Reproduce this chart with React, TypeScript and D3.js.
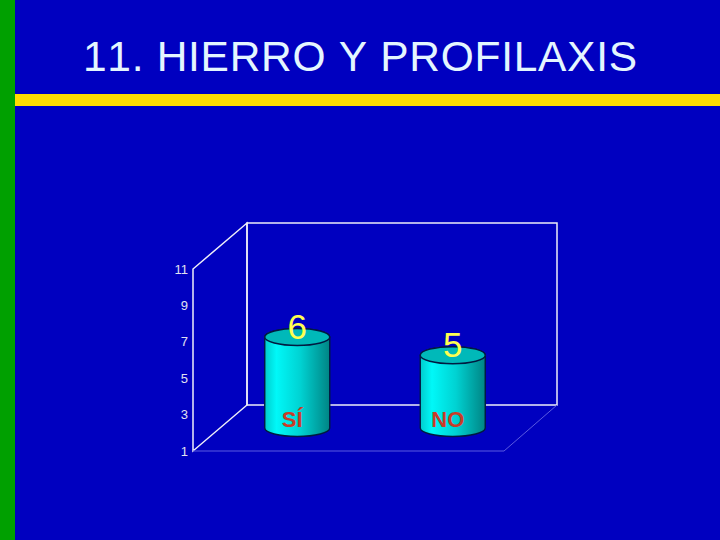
import React from 'react';
import * as d3 from 'd3';

const categories = ['SÍ', 'NO'];
const values = [6, 5];
const yTicks = [1, 3, 5, 7, 9, 11];
const titleText = '11. HIERRO Y PROFILAXIS';

const width = 720;
const height = 540;

// front plane of the 3D box, the back wall is shifted by (depthX, depthY)
const frontLeft = 193;
const frontRight = 504;
const depthX = 54;
const depthY = -46;

const y = d3.scaleLinear().domain([1, 11]).range([451, 269]);
const x = d3.scaleBand<string>().domain(categories).range([frontLeft, frontRight]);

const cylRx = 32.5;
const cylRy = 8.5;

const cylinderPath = (cx: number, top: number, bottom: number) =>
  `M${cx - cylRx},${top} L${cx - cylRx},${bottom} ` +
  `A${cylRx},${cylRy} 0 0 0 ${cx + cylRx},${bottom} L${cx + cylRx},${top} ` +
  `A${cylRx},${cylRy} 0 0 0 ${cx - cylRx},${top} Z`;

const App: React.FC = () => {
  const yMin = y(1);
  const yMax = y(11);
  const backLeft = frontLeft + depthX;
  const backRight = frontRight + depthX - 1;

  return (
    <svg
      width={width}
      height={height}
      style={{ position: 'fixed', left: 0, top: 0, display: 'block' }}
      fontFamily="'Liberation Sans', Arial, sans-serif"
    >
      <defs>
        <linearGradient id="cyl" x1="0" x2="1" y1="0" y2="0">
          <stop offset="0" stopColor="#00cccc" />
          <stop offset="0.18" stopColor="#00f8f8" />
          <stop offset="0.55" stopColor="#00d2d2" />
          <stop offset="1" stopColor="#008484" />
        </linearGradient>
      </defs>

      <rect width={width} height={height} fill="#0000c0" />
      <rect x={0} y={0} width={15} height={height} fill="#00a000" />
      <rect x={15} y={94} width={width - 15} height={12} fill="#ffdc00" />
      <text
        x={83}
        y={71}
        fontSize={42.5}
        fill="#e4f6ff"
        textLength={554}
        lengthAdjust="spacing"
        style={{ fontKerning: 'none' }}
      >
        {titleText}
      </text>

      {/* back wall and left wall */}
      <g fill="none" stroke="#eeeef8" strokeWidth={1.5}>
        <rect x={backLeft} y={yMax + depthY} width={backRight - backLeft} height={yMin - yMax} />
        <polygon
          points={`${frontLeft},${yMin} ${frontLeft},${yMax} ${backLeft},${yMax + depthY} ${backLeft},${yMin + depthY}`}
        />
      </g>
      {/* floor */}
      <g fill="none" stroke="#5a5ae0" strokeWidth={1}>
        <path d={`M${frontLeft},${yMin} L${frontRight},${yMin} L${backRight},${yMin + depthY}`} />
      </g>

      {yTicks.map((t) => (
        <text key={t} x={188} y={y(t)} dy="0.36em" textAnchor="end" fontSize={13} fill="#e0e0f0">
          {t}
        </text>
      ))}

      {categories.map((c, i) => {
        const cx = (x(c) as number) + x.bandwidth() / 2 + depthX / 2 - 0.5;
        const bottom = y(1) + depthY / 2;
        const top = y(values[i]) + depthY / 2;
        return (
          <g key={c}>
            <path d={cylinderPath(cx, top, bottom)} fill="url(#cyl)" stroke="#001a40" strokeWidth={1.4} />
            <ellipse cx={cx} cy={top} rx={cylRx} ry={cylRy} fill="#00b9b9" stroke="#001a40" strokeWidth={1.4} />
            <text x={cx} y={top + 2} textAnchor="middle" fontSize={35} fill="#ffff50">
              {values[i]}
            </text>
            <text x={cx - 5} y={427} textAnchor="middle" fontSize={22} fontWeight="bold" fill="#c83c28">
              {c}
            </text>
          </g>
        );
      })}
    </svg>
  );
};

export default App;
